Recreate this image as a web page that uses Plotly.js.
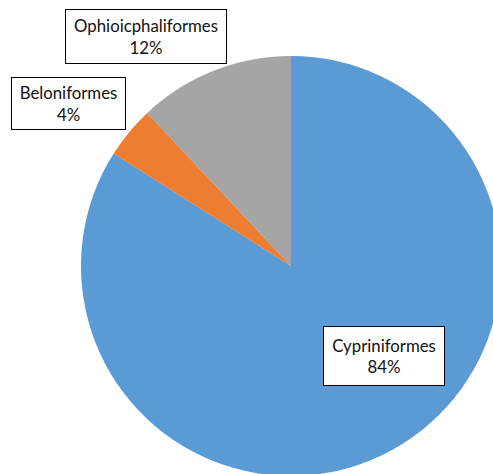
<!DOCTYPE html>
<html><head><meta charset="utf-8">
<script src="https://cdn.plot.ly/plotly-3.0.1.min.js"></script>
<style>html,body{margin:0;padding:0;overflow:hidden;background:#fff;width:493px;height:474px}</style>
</head><body><div id="chart"></div>
<script>
const categories = ["Cypriniformes", "Beloniformes", "Ophioicphaliformes"];
const values = [84, 4, 12];
const colors = ["#5B9BD5", "#ED7D31", "#A5A5A5"];

// layout geometry (pixels)
const W = 520, H = 490, L = 81, T = 56, S = 420;
function px(x){ return (x - L) / S; }
function py(y){ return 1 - (y - T) / S; }
const boxes = [
  {cx: 383.5, cy: 355.5, w: 120, h: 58},
  {cx: 68, cy: 103, w: 113, h: 51},
  {cx: 145.5, cy: 37, w: 160, h: 53}
];
const total = values.reduce((a,b)=>a+b,0);
const annotations = categories.map((c,i)=>({
  xref:'paper', yref:'paper', x: px(boxes[i].cx), y: py(boxes[i].cy),
  xanchor:'center', yanchor:'middle', showarrow:false,
  text: c + '<br>' + Math.round(values[i]/total*100) + '%',
  font:{family:'Lato, "Liberation Sans", sans-serif', size:16.8, color:'#111'},
  bgcolor:'#fff', bordercolor:'#000', borderwidth:1, borderpad:0,
  width: boxes[i].w, height: boxes[i].h, align:'center'
}));

Plotly.newPlot('chart', [{
  type:'pie', labels: categories, values: values,
  marker:{colors: colors, line:{width:0}},
  sort:false, direction:'clockwise', rotation:0,
  textinfo:'none', hoverinfo:'label+percent', showlegend:false
}], {
  width: W, height: H,
  margin:{l:L, r:W-L-S, t:T, b:H-T-S, pad:0},
  paper_bgcolor:'#fff', plot_bgcolor:'#fff',
  showlegend:false,
  annotations: annotations
}, {displayModeBar:false, staticPlot:true});
</script></body></html>
